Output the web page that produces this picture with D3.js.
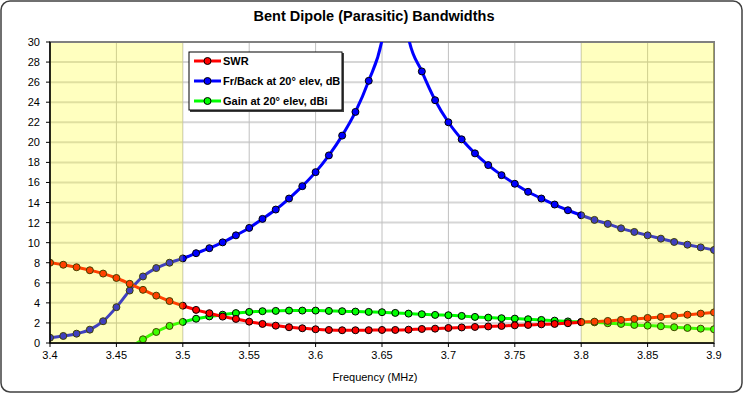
<!DOCTYPE html>
<html>
<head>
<meta charset="utf-8">
<script src="https://cdn.jsdelivr.net/npm/d3@7"></script>
<style>
  body { margin: 0; background: #fff; }
  svg text { font-family: "Liberation Sans", Arial, sans-serif; }
</style>
</head>
<body>
<script>
const freqs = d3.range(51).map(i => +(3.4 + i * 0.01).toFixed(2));

const swr = [8.0, 7.8, 7.55, 7.25, 6.92, 6.48, 5.9, 5.3, 4.72, 4.18,
  3.72, 3.3, 2.97, 2.63, 2.4, 2.13, 1.9, 1.73, 1.57, 1.47,
  1.37, 1.3, 1.27, 1.27, 1.28, 1.3, 1.3, 1.33, 1.4, 1.43,
  1.5, 1.55, 1.6, 1.65, 1.7, 1.76, 1.8, 1.86, 1.9, 1.97,
  2.08, 2.13, 2.2, 2.3, 2.4, 2.5, 2.6, 2.7, 2.82, 2.93, 3.05];

const frontBack = [0.53, 0.7, 0.93, 1.33, 2.17, 3.57, 5.23, 6.63, 7.47, 8.0,
  8.43, 8.95, 9.45, 10.03, 10.73, 11.47, 12.37, 13.3, 14.4, 15.63,
  17.03, 18.7, 20.67, 23.03, 26.13, 30.2, 40, 30.4, 27.07, 24.2,
  22.0, 20.3, 18.9, 17.73, 16.73, 15.87, 15.07, 14.4, 13.8, 13.23,
  12.73, 12.27, 11.87, 11.43, 11.07, 10.73, 10.4, 10.07, 9.8, 9.53, 9.27];

const gain = [-8, -6, -4, -3, -2, -1.5, -0.5, 0.37, 1.1, 1.7,
  2.1, 2.42, 2.65, 2.82, 2.98, 3.1, 3.17, 3.2, 3.23, 3.23,
  3.23, 3.2, 3.17, 3.13, 3.1, 3.07, 3.0, 2.93, 2.87, 2.8,
  2.77, 2.7, 2.6, 2.53, 2.47, 2.43, 2.37, 2.3, 2.23, 2.15,
  2.1, 2.06, 1.97, 1.9, 1.8, 1.73, 1.67, 1.57, 1.5, 1.43, 1.37];

const seriesNames = ["SWR", "Fr/Back at 20° elev, dB", "Gain at 20° elev, dBi"];
const seriesColors = ["#ff0000", "#0000ff", "#00ff00"];
const bands = [[3.4, 3.5], [3.8, 3.9]];
const xTicks = [3.4, 3.45, 3.5, 3.55, 3.6, 3.65, 3.7, 3.75, 3.8, 3.85, 3.9];
const yTicks = d3.range(0, 31, 2);

const width = 745, height = 394;
const plot = { left: 50, right: 714, top: 42, bottom: 343 };

const svg = d3.select("body").append("svg")
  .attr("width", width)
  .attr("height", height);

svg.append("rect")
  .attr("x", 1).attr("y", 1)
  .attr("width", width - 4).attr("height", height - 3)
  .attr("rx", 9)
  .attr("fill", "#fff")
  .attr("stroke", "#404040")
  .attr("stroke-width", 1.5);

svg.append("text")
  .attr("x", 374).attr("y", 21)
  .attr("text-anchor", "middle")
  .attr("font-size", 14.5)
  .attr("font-weight", "bold")
  .text("Bent Dipole (Parasitic) Bandwidths");

const x = d3.scaleLinear().domain([3.4, 3.9]).range([plot.left, plot.right]);
const y = d3.scaleLinear().domain([0, 30]).range([plot.bottom, plot.top]);

// grid
svg.append("g")
  .selectAll("line")
  .data(yTicks)
  .join("line")
  .attr("x1", plot.left).attr("x2", plot.right)
  .attr("y1", d => y(d)).attr("y2", d => y(d))
  .attr("stroke", "#d6d6d6")
  .attr("stroke-width", 2);

svg.append("g")
  .selectAll("line")
  .data(xTicks)
  .join("line")
  .attr("x1", d => x(d)).attr("x2", d => x(d))
  .attr("y1", plot.top).attr("y2", plot.bottom)
  .attr("stroke", "#c0c0c0")
  .attr("stroke-width", 1);

svg.append("rect")
  .attr("x", plot.left).attr("y", plot.top)
  .attr("width", plot.right - plot.left).attr("height", plot.bottom - plot.top)
  .attr("fill", "none")
  .attr("stroke", "#808080")
  .attr("stroke-width", 2);

svg.append("clipPath").attr("id", "clip")
  .append("rect")
  .attr("x", plot.left).attr("y", plot.top)
  .attr("width", plot.right - plot.left).attr("height", plot.bottom - plot.top);

const line = d3.line()
  .x(d => x(d[0]))
  .y(d => y(d[1]))
  .curve(d3.curveMonotoneX);

const data = [swr, frontBack, gain].map(vals => freqs.map((f, i) => [f, vals[i]]));

const marks = svg.append("g").attr("clip-path", "url(#clip)");

// drawing order: gain behind, then fr/back, swr on top
[2, 1, 0].forEach(k => {
  marks.append("path")
    .datum(data[k])
    .attr("d", line)
    .attr("fill", "none")
    .attr("stroke", seriesColors[k])
    .attr("stroke-width", 3);
  marks.append("g")
    .selectAll("circle")
    .data(data[k].filter(d => d[1] >= 0 && d[1] <= 30))
    .join("circle")
    .attr("cx", d => x(d[0]))
    .attr("cy", d => y(d[1]))
    .attr("r", 3.5)
    .attr("fill", seriesColors[k])
    .attr("stroke", "#000")
    .attr("stroke-width", 1);
});

// translucent yellow bands over the band edges
svg.append("g")
  .selectAll("rect")
  .data(bands)
  .join("rect")
  .attr("x", d => x(d[0]))
  .attr("y", plot.top + 1)
  .attr("width", d => x(d[1]) - x(d[0]))
  .attr("height", plot.bottom - plot.top - 1)
  .attr("fill", "rgba(255,255,0,0.25)");

// axes lines
svg.append("line")
  .attr("x1", plot.left).attr("x2", plot.left)
  .attr("y1", plot.top).attr("y2", plot.bottom)
  .attr("stroke", "#000").attr("stroke-width", 1.5);
svg.append("line")
  .attr("x1", plot.left).attr("x2", plot.right)
  .attr("y1", plot.bottom).attr("y2", plot.bottom)
  .attr("stroke", "#000").attr("stroke-width", 1.5);

svg.append("g")
  .selectAll("line")
  .data(yTicks)
  .join("line")
  .attr("x1", plot.left - 4).attr("x2", plot.left)
  .attr("y1", d => y(d)).attr("y2", d => y(d))
  .attr("stroke", "#000");

svg.append("g")
  .selectAll("line")
  .data(xTicks)
  .join("line")
  .attr("x1", d => x(d)).attr("x2", d => x(d))
  .attr("y1", plot.bottom).attr("y2", plot.bottom + 4)
  .attr("stroke", "#000");

svg.append("g")
  .selectAll("text")
  .data(yTicks)
  .join("text")
  .attr("x", plot.left - 10)
  .attr("y", d => y(d) + 4)
  .attr("text-anchor", "end")
  .attr("font-size", 11)
  .text(d => d);

svg.append("g")
  .selectAll("text")
  .data(xTicks)
  .join("text")
  .attr("x", d => x(d))
  .attr("y", plot.bottom + 16)
  .attr("text-anchor", "middle")
  .attr("font-size", 11)
  .text(d => d3.format("~g")(d));

svg.append("text")
  .attr("x", 375).attr("y", 381)
  .attr("text-anchor", "middle")
  .attr("font-size", 11)
  .text("Frequency (MHz)");

// legend
const legend = svg.append("g").attr("transform", "translate(189,52)");
legend.append("rect")
  .attr("x", 1).attr("y", 1)
  .attr("width", 154).attr("height", 59)
  .attr("fill", "#404040");
legend.append("rect")
  .attr("width", 153).attr("height", 58)
  .attr("fill", "#fff")
  .attr("stroke", "#000")
  .attr("stroke-width", 1);

seriesNames.forEach((name, i) => {
  const row = legend.append("g").attr("transform", `translate(0,${9 + i * 20})`);
  row.append("line")
    .attr("x1", 5).attr("x2", 32)
    .attr("stroke", seriesColors[i])
    .attr("stroke-width", 3);
  row.append("circle")
    .attr("cx", 18.5).attr("r", 3.5)
    .attr("fill", seriesColors[i])
    .attr("stroke", "#000");
  row.append("text")
    .attr("x", 34).attr("y", 4)
    .attr("font-size", 11)
    .attr("font-weight", "bold")
    .text(name);
});
</script>
</body>
</html>
